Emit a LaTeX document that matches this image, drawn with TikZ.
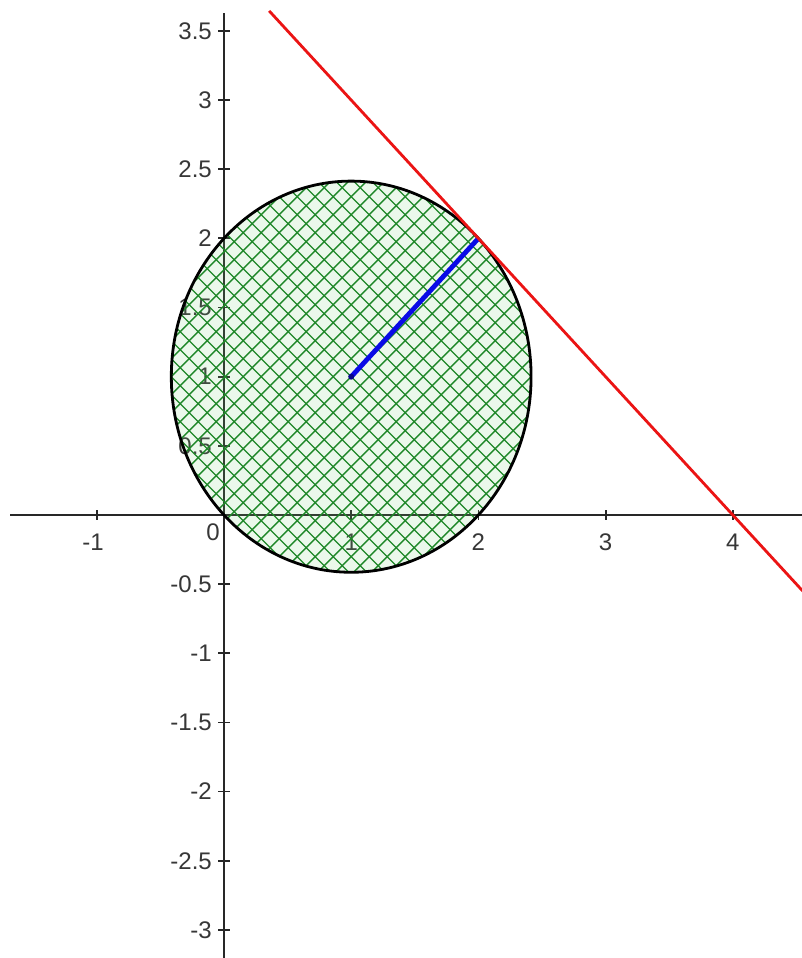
\documentclass[tikz,border=0pt]{standalone}
\usepackage{fontspec}
\setmainfont{Liberation Sans}
\definecolor{axisgray}{RGB}{40,40,40}
\definecolor{labelgray}{RGB}{55,55,55}
\definecolor{hatchgreen}{RGB}{30,135,40}
\definecolor{palegreen}{RGB}{120,210,120}
\definecolor{linered}{RGB}{235,20,20}
\definecolor{segblue}{RGB}{10,10,230}
\begin{document}
\begin{tikzpicture}[x=1pt,y=1pt,
  axisline/.style={line width=1.8pt, draw=axisgray},
  ticklabel/.style={inner sep=0pt, font=\fontsize{24}{24}\selectfont, text=labelgray},
  hatchline/.style={line width=1.3pt, draw=hatchgreen},
  rim/.style={line width=2.8pt, draw=black},
  tangentline/.style={line width=2.8pt, draw=linered},
  radiusseg/.style={line width=4.8pt, draw=segblue},
]
\useasboundingbox (0,0) rectangle (801,958);
\fill[white] (0,0) rectangle (801,958);
\begin{scope}[shift={(224,443)}, x=127.2pt, y=138.3pt]
  % axes
  \coordinate (xl) at (-1.68,0);
  \coordinate (xr) at (4.55,0);
  \coordinate (yb) at (0,-3.21);
  \coordinate (yt) at (0,3.63);
  \draw[axisline] (xl) -- (xr);
  \draw[axisline] (yb) -- (yt);
  \foreach \t in {-1,1,2,3,4} \draw[axisline] (\t,0) ++(0,-5pt) -- ++(0,10pt);
  \foreach \t in {-3,-2.5,-2,-1.5,-1,-0.5,0.5,1,1.5,2,2.5,3,3.5}
    \draw[axisline] (0,\t) ++(-6pt,0) -- ++(12pt,0);
  % x labels
  \foreach \v/\s [count=\i] in {-1.03/-1,1/1,2/2,3/3,4/4}
    \node[ticklabel] (xlab\i) at ([yshift=-27pt]\v,0) {\s};
  \node[ticklabel] (zlab) at (-11pt,-17pt) {0};
  % y labels
  \foreach \v/\s [count=\i] in {3.5/3.5,3/3,2.5/2.5,2/2,1.5/1.5,1/1,0.5/0.5,-0.5/-0.5,-1/-1,-1.5/-1.5,-2/-2,-2.5/-2.5,-3/-3}
    \node[ticklabel, anchor=east] (ylab\i) at ([xshift=-12pt]0,\v) {\s};
  % disc
  \coordinate (ctr) at (1,1);
  \coordinate (tp) at (2,2);
  \begin{scope}
    \clip (ctr) ellipse [x radius=1.4142, y radius=1.4142];
    \fill[palegreen, opacity=0.14] (ctr) ellipse [x radius=1.4142, y radius=1.4142];
    \foreach \k in {-17,...,17} {
      \draw[hatchline] ([xshift={\k*18pt}]ctr) ++(-320pt,-320pt) -- ++(640pt,640pt);
      \draw[hatchline] ([xshift={\k*18pt}]ctr) ++(-320pt,320pt) -- ++(640pt,-640pt);
    }
  \end{scope}
  \draw[rim] (ctr) ellipse [x radius=1.4142, y radius=1.4142];
  % radius segment
  \draw[radiusseg] (ctr) -- (tp);
  \fill[segblue!60!black] (ctr) circle [radius=3pt];
  % tangent line x+y=4
  \coordinate (ra) at (0.355,3.645);
  \coordinate (rb) at (4.55,-0.55);
  \draw[tangentline] (ra) -- (rb);
\end{scope}
\end{tikzpicture}
\end{document}
